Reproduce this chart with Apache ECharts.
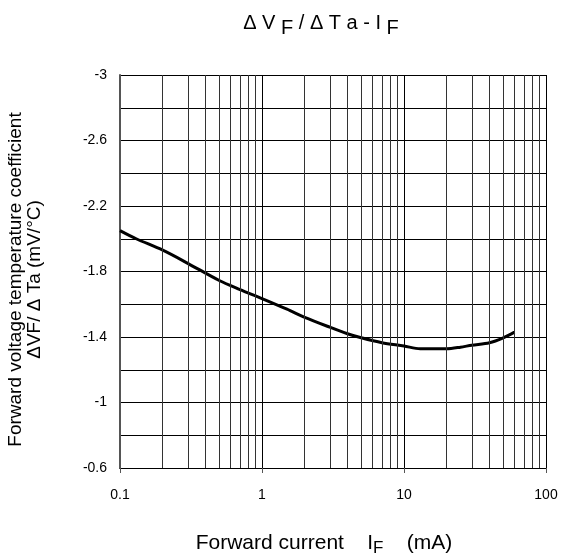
<!DOCTYPE html>
<html>
<head>
<meta charset="utf-8">
<script src="https://cdn.jsdelivr.net/npm/echarts@6/dist/echarts.min.js"></script>
<style>
  html, body { margin: 0; padding: 0; background: #fff; }
  #main { width: 563px; height: 558px; }
</style>
</head>
<body>
<div id="main"></div>
<script>
// forward current (mA) and temperature coefficient (mV/°C)
var currentMA = [0.1, 0.13, 0.2, 0.3, 0.5, 0.7, 1, 1.5, 2, 3, 4, 5, 7, 10, 13, 20, 25, 30, 40, 50, 60];
var coeff = [-2.05, -2.0, -1.93, -1.85, -1.745, -1.69, -1.635, -1.57, -1.52, -1.46, -1.42, -1.395, -1.365, -1.345, -1.328, -1.328, -1.338, -1.35, -1.365, -1.395, -1.43];
var minorX = [0.2, 0.3, 0.4, 0.5, 0.6, 0.7, 0.8, 0.9, 2, 3, 4, 5, 6, 7, 8, 9, 20, 30, 40, 50, 60, 70, 80, 90];

var font = 'Liberation Sans, Arial, sans-serif';
var myChart = echarts.init(document.getElementById('main'));

var option = {
    animation: false,
    backgroundColor: '#fff',
    title: {
        text: '{t|Δ V }{s|F}{t| / Δ T a - I }{s|F}',
        left: 316,
        textAlign: 'center',
        top: 8,
        textStyle: {
            rich: {
                t: { fontFamily: font, fontSize: 20, fontWeight: 'normal', color: '#000', verticalAlign: 'top', lineHeight: 22 },
                s: { fontFamily: font, fontSize: 20, fontWeight: 'normal', color: '#000', verticalAlign: 'bottom', lineHeight: 25 }
            }
        }
    },
    grid: { left: 120, right: 17, top: 75, bottom: 90, outerBoundsMode: 'none', containLabel: false },
    xAxis: {
        type: 'log',
        logBase: 10,
        min: 0.1,
        max: 100,
        name: 'Forward current    I{s|F}    (mA)',
        nameLocation: 'middle',
        nameGap: 62,
        nameTextStyle: {
            fontFamily: font, fontSize: 21, color: '#000', padding: [0, 18, 0, 0],
            rich: { s: { fontFamily: font, fontSize: 17, color: '#000', verticalAlign: 'bottom', lineHeight: 27, padding: [5, 0, 0, 0] } }
        },
        axisLine: { lineStyle: { color: '#000', width: 1 } },
        axisTick: { show: true, length: 5, lineStyle: { color: '#555' } },
        axisLabel: {
            fontFamily: font, fontSize: 14, color: '#000', margin: 20,
            formatter: function (v) { return String(+v.toPrecision(3)); }
        },
        splitLine: { show: true, lineStyle: { color: '#000', width: 1 } }
    },
    yAxis: {
        type: 'value',
        inverse: true,
        min: -3,
        max: -0.6,
        interval: 0.4,
        name: 'Forward voltage temperature coefficient\nΔVF/ Δ Ta (mV/°C)',
        nameLocation: 'middle',
        nameRotate: 90,
        nameGap: 76,
        nameTextStyle: { fontFamily: font, fontSize: 19, color: '#000', lineHeight: 19, padding: [0, 16, 0, 0] },
        axisLine: { show: true, lineStyle: { color: '#555', width: 2 } },
        axisTick: { show: false },
        axisLabel: {
            fontFamily: font, fontSize: 14, color: '#000', margin: 13,
            formatter: function (v) { return String(Math.round(v * 10) / 10); }
        },
        splitLine: { show: true, lineStyle: { color: '#000', width: 1 } },
        minorTick: { show: false, splitNumber: 2 },
        minorSplitLine: { show: true, lineStyle: { color: '#000', width: 1 } }
    },
    series: [
        {
            type: 'line',
            data: currentMA.map(function (x, i) { return [x, coeff[i]]; }),
            showSymbol: false,
            smooth: 0.3,
            lineStyle: { color: '#000', width: 3 },
            markLine: {
                silent: true,
                symbol: 'none',
                label: { show: false },
                lineStyle: { color: '#333', width: 1, type: 'solid' },
                data: minorX.map(function (v) { return { xAxis: v }; })
            }
        }
    ]
};

myChart.setOption(option);
</script>
</body>
</html>
